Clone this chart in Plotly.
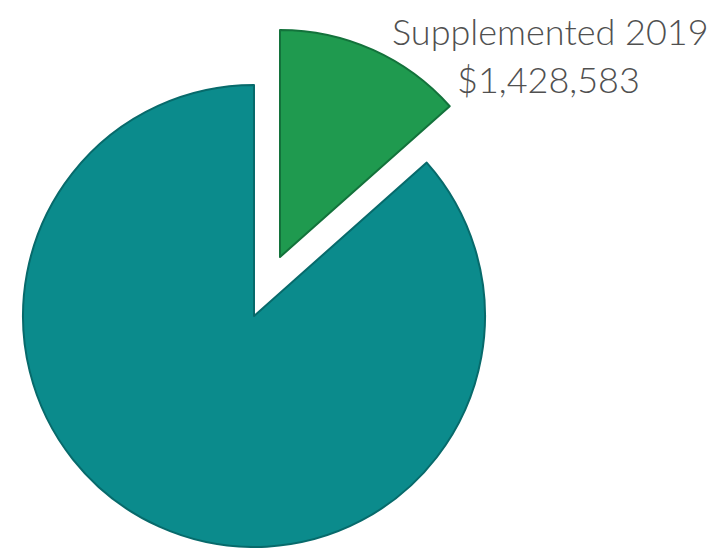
import plotly.graph_objects as go

labels = ["Supplemented 2019", "Other"]
values = [1428583, 9200000]
colors = ["#1f9a4f", "#0b8b8c"]

OFF = 8  # page body margin offset
W, H = 721 - OFF, 548 - OFF

def dom(cx, cy, r):
    cx -= OFF
    cy -= OFF
    return dict(x=[(cx - r) / W, (cx + r) / W], y=[(H - cy - r) / H, (H - cy + r) / H])

fig = go.Figure()
# main (teal) slice
fig.add_trace(go.Pie(
    labels=labels, values=values, sort=False, direction="clockwise", rotation=0,
    marker=dict(colors=["rgba(0,0,0,0)", colors[1]],
                line=dict(color=["rgba(0,0,0,0)", "#076a6b"], width=2)),
    textinfo="none", hoverinfo="label+value", showlegend=False,
    domain=dom(254, 316, 231),
))
# exploded (green) slice
fig.add_trace(go.Pie(
    labels=labels, values=values, sort=False, direction="clockwise", rotation=0,
    marker=dict(colors=[colors[0], "rgba(0,0,0,0)"],
                line=dict(color=["#13723b", "rgba(0,0,0,0)"], width=2)),
    textinfo="none", hoverinfo="label+value", showlegend=False,
    domain=dom(280, 257, 227),
))

fig.add_annotation(
    x=(550 - OFF) / W, y=1, xref="paper", yref="paper",
    text=labels[0], showarrow=False, xanchor="center", yanchor="top", borderpad=0,
    font=dict(family="Lato", size=36, color="#505050", weight=300),
)
fig.add_annotation(
    x=(548 - OFF) / W, y=1 - (79 - OFF) / H, xref="paper", yref="paper",
    text="${:,}".format(values[0]), showarrow=False, xanchor="center", yanchor="middle",
    font=dict(family="Lato", size=36, color="#505050", weight=300),
)

fig.update_layout(
    width=W, height=H, margin=dict(l=0, r=0, t=0, b=0),
    paper_bgcolor="white", plot_bgcolor="white",
)
fig.write_html("out.html")
